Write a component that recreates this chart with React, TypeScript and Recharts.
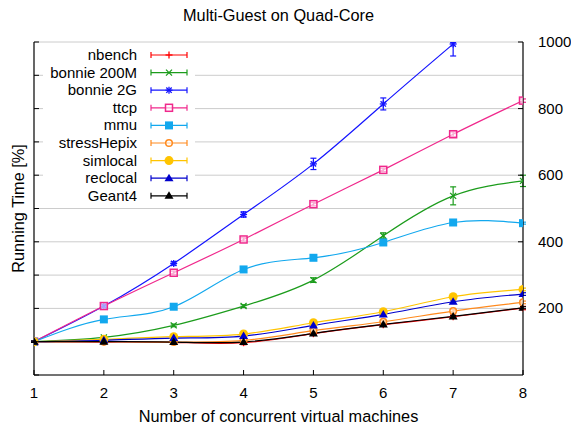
import React from "react";
import { LineChart, Line, XAxis, YAxis, CartesianGrid, ErrorBar, Legend } from "recharts";

// ---------- data ----------
const machines = [1, 2, 3, 4, 5, 6, 7, 8];
const xTicks = [1, 2, 3, 4, 5, 6, 7, 8];
const yTicksMinor = [0, 100, 200, 300, 400, 500, 600, 700, 800, 900, 1000];
const yTicksLabeled = [200, 400, 600, 800, 1000];

const nbench = [100, 99, 98, 97, 124, 151, 175, 201];
const nbenchErr = [2, 3, 4, 6, 5, 5, 5, 5];
const bonnie200M = [100, 113, 149, 207, 285, 418, 538, 583];
const bonnie200MErr = [2, 4, 4, 4, 7, 9, 27, 17];
const bonnie2G = [100, 207, 335, 482, 634, 814, 994, null];
const bonnie2GErr: any[] = [2, 4, 5, 8, 17, 18, [36, 4], null];
const ttcp = [100, 207, 307, 407, 513, 616, 723, 824];
const ttcpErr = [2, 5, 5, 5, 5, 5, 7, 5];
const mmu = [100, 167, 205, 317, 352, 398, 458, 456];
const mmuErr = [2, 3, 3, 3, 3, 3, 3, 3];
const stressHepix = [100, 100, 99, 104, 133, 160, 192, 218];
const stressHepixErr = [2, 3, 3, 3, 4, 4, 5, 4];
const simlocal = [100, 107, 115, 123, 157, 190, 235, 257];
const simlocalErr = [2, 3, 3, 4, 4, 5, 7, 4];
const reclocal = [100, 104, 111, 117, 149, 182, 220, 243];
const reclocalErr = [2, 3, 3, 3, 4, 4, 5, 4];
const geant4 = [100, 100, 99, 99, 125, 152, 176, 202];
const geant4Err = [2, 2, 2, 2, 3, 3, 3, 3];

const chartTitle = "Multi-Guest on Quad-Core";
const xTitle = "Number of concurrent virtual machines";
const yTitle = "Running Time [%]";

type MarkerKind =
  | "plus"
  | "cross"
  | "star"
  | "openSquare"
  | "filledSquare"
  | "openCircle"
  | "filledCircle"
  | "triangle";

const series: { key: string; name: string; values: any[]; errs: any[]; color: string; marker: MarkerKind }[] = [
  { key: "nbench", name: "nbench", values: nbench, errs: nbenchErr, color: "#ff0000", marker: "plus" },
  { key: "bonnie200M", name: "bonnie 200M", values: bonnie200M, errs: bonnie200MErr, color: "#1c9c1c", marker: "cross" },
  { key: "bonnie2G", name: "bonnie 2G", values: bonnie2G, errs: bonnie2GErr, color: "#1414ff", marker: "star" },
  { key: "ttcp", name: "ttcp", values: ttcp, errs: ttcpErr, color: "#f0288c", marker: "openSquare" },
  { key: "mmu", name: "mmu", values: mmu, errs: mmuErr, color: "#12a8ee", marker: "filledSquare" },
  { key: "stressHepix", name: "stressHepix", values: stressHepix, errs: stressHepixErr, color: "#ff8a1e", marker: "openCircle" },
  { key: "simlocal", name: "simlocal", values: simlocal, errs: simlocalErr, color: "#ffc400", marker: "filledCircle" },
  { key: "reclocal", name: "reclocal", values: reclocal, errs: reclocalErr, color: "#0000cc", marker: "triangle" },
  { key: "geant4", name: "Geant4", values: geant4, errs: geant4Err, color: "#000000", marker: "triangle" },
];

const data = machines.map((m, i) => {
  const row: any = { x: m };
  series.forEach((s) => {
    row[s.key] = s.values[i];
    row[s.key + "_err"] = s.errs[i];
  });
  return row;
});

// ---------- layout ----------
const W = 571;
const H = 426;
const PLOT_LEFT = 34;
const PLOT_RIGHT = 523;
const PLOT_TOP = 42;
const PLOT_BOTTOM = 375;
const FONT = "'Liberation Sans', Arial, sans-serif";
const FS = 15;
const FS_TITLE = 16.3;
const TICK = 5;

const Marker = ({ cx, cy, kind, color }: { cx: number; cy: number; kind: MarkerKind; color: string }) => {
  if (cx == null || cy == null || isNaN(cx) || isNaN(cy)) return <g />;
  switch (kind) {
    case "plus":
      return (
        <g stroke={color} strokeWidth={1.3}>
          <line x1={cx - 3.5} x2={cx + 3.5} y1={cy} y2={cy} />
          <line x1={cx} x2={cx} y1={cy - 3.5} y2={cy + 3.5} />
        </g>
      );
    case "cross":
      return (
        <g stroke={color} strokeWidth={1.3}>
          <line x1={cx - 3} x2={cx + 3} y1={cy - 3} y2={cy + 3} />
          <line x1={cx - 3} x2={cx + 3} y1={cy + 3} y2={cy - 3} />
        </g>
      );
    case "star":
      return (
        <g stroke={color} strokeWidth={1.3}>
          <line x1={cx - 3.5} x2={cx + 3.5} y1={cy} y2={cy} />
          <line x1={cx} x2={cx} y1={cy - 3.5} y2={cy + 3.5} />
          <line x1={cx - 2.7} x2={cx + 2.7} y1={cy - 2.7} y2={cy + 2.7} />
          <line x1={cx - 2.7} x2={cx + 2.7} y1={cy + 2.7} y2={cy - 2.7} />
        </g>
      );
    case "openSquare":
      return <rect x={cx - 3.5} y={cy - 3.5} width={7} height={7} fill="#fff" fillOpacity={0.6} stroke={color} strokeWidth={1.5} />;
    case "filledSquare":
      return <rect x={cx - 4} y={cy - 4} width={8} height={8} fill={color} />;
    case "openCircle":
      return <circle cx={cx} cy={cy} r={3.3} fill="#fff" fillOpacity={0.6} stroke={color} strokeWidth={1.5} />;
    case "filledCircle":
      return <circle cx={cx} cy={cy} r={4.5} fill={color} />;
    case "triangle":
      return <polygon points={`${cx},${cy - 4.5} ${cx + 4.5},${cy + 3} ${cx - 4.5},${cy + 3}`} fill={color} />;
  }
  return <g />;
};

const BottomTick = (props: any) => {
  const { x, payload } = props;
  return (
    <g>
      <line x1={x} x2={x} y1={PLOT_BOTTOM} y2={PLOT_BOTTOM - TICK} stroke="#000" strokeWidth={1} />
      <text x={x} y={PLOT_BOTTOM + 23} textAnchor="middle" fontFamily={FONT} fontSize={FS} fill="#000">
        {payload.value}
      </text>
    </g>
  );
};

const TopTick = (props: any) => {
  const { x } = props;
  return <line x1={x} x2={x} y1={PLOT_TOP} y2={PLOT_TOP + TICK} stroke="#000" strokeWidth={1} />;
};

const LeftTick = (props: any) => {
  const { y } = props;
  return <line x1={PLOT_LEFT} x2={PLOT_LEFT + TICK} y1={y} y2={y} stroke="#000" strokeWidth={1} />;
};

const RightTick = (props: any) => {
  const { y, payload } = props;
  return (
    <g>
      <line x1={PLOT_RIGHT - TICK} x2={PLOT_RIGHT} y1={y} y2={y} stroke="#000" strokeWidth={1} />
      <text x={PLOT_RIGHT + 15} y={y + 5} textAnchor="start" fontFamily={FONT} fontSize={FS} fill="#000">
        {payload.value}
      </text>
    </g>
  );
};

const LegendContent = () => {
  const rowH = 17.6;
  return (
    <svg width={152} height={160} style={{ display: "block", background: "#fff" }}>
      {series.map((s, i) => {
        const y = 10 + i * rowH;
        return (
          <g key={s.key}>
            <text x={94} y={y + 5} textAnchor="end" fontFamily={FONT} fontSize={FS} fill="#000">
              {s.name}
            </text>
            <g stroke={s.color} strokeWidth={1.2}>
              <line x1={108} x2={144} y1={y} y2={y} />
              <line x1={108} x2={108} y1={y - 3} y2={y + 3} />
              <line x1={144} x2={144} y1={y - 3} y2={y + 3} />
            </g>
            <Marker cx={126} cy={y} kind={s.marker} color={s.color} />
          </g>
        );
      })}
    </svg>
  );
};

const midY = (PLOT_TOP + PLOT_BOTTOM) / 2;
const midX = (PLOT_LEFT + PLOT_RIGHT) / 2;

export default function App() {
  return (
    <div style={{ position: "absolute", left: 0, top: 0, width: W, height: H, background: "#fff" }}>
      <LineChart width={W} height={H} data={data} margin={{ top: PLOT_TOP, right: 0, bottom: 0, left: 0 }}>
        <CartesianGrid xAxisId="bottom" yAxisId="left" vertical={false} stroke="#cccccc" strokeWidth={1} />
        <XAxis
          xAxisId="bottom"
          dataKey="x"
          type="number"
          domain={[1, 8]}
          ticks={xTicks}
          allowDataOverflow
          height={H - PLOT_BOTTOM}
          axisLine={{ stroke: "#000", strokeWidth: 1.2 }}
          tickLine={false}
          tick={<BottomTick />}
          interval={0}
          label={{
            content: () => (
              <text x={midX} y={422} textAnchor="middle" fontFamily={FONT} fontSize={FS_TITLE} fill="#000">
                {xTitle}
              </text>
            ),
          }}
        />
        <XAxis
          xAxisId="top"
          orientation="top"
          dataKey="x"
          type="number"
          domain={[1, 8]}
          ticks={xTicks}
          allowDataOverflow
          height={0}
          axisLine={{ stroke: "#000", strokeWidth: 1.2 }}
          tickLine={false}
          tick={<TopTick />}
          interval={0}
        />
        <YAxis
          yAxisId="left"
          type="number"
          domain={[0, 1000]}
          ticks={yTicksMinor}
          allowDataOverflow
          width={PLOT_LEFT}
          axisLine={{ stroke: "#000", strokeWidth: 1.2 }}
          tickLine={false}
          tick={<LeftTick />}
          interval={0}
          label={{
            content: () => (
              <g>
                <text
                  x={24}
                  y={midY}
                  textAnchor="middle"
                  fontFamily={FONT}
                  fontSize={FS_TITLE}
                  fill="#000"
                  transform={`rotate(-90, 24, ${midY})`}
                >
                  {yTitle}
                </text>
                <text x={midX} y={21} textAnchor="middle" fontFamily={FONT} fontSize={FS_TITLE} fill="#000">
                  {chartTitle}
                </text>
              </g>
            ),
          }}
        />
        <YAxis
          yAxisId="right"
          orientation="right"
          type="number"
          domain={[0, 1000]}
          ticks={yTicksLabeled}
          allowDataOverflow
          width={W - PLOT_RIGHT}
          axisLine={{ stroke: "#000", strokeWidth: 1.2 }}
          tickLine={false}
          tick={<RightTick />}
          interval={0}
        />
        <Legend
          layout="vertical"
          align="center"
          verticalAlign="middle"
          width={152}
          height={160}
          wrapperStyle={{ left: 43, top: 45, width: 152, height: 160, background: "#fff" }}
          content={() => <LegendContent />}
        />
        {series.map((s) => (
          <Line
            key={s.key}
            xAxisId="bottom"
            yAxisId="left"
            dataKey={s.key}
            name={s.name}
            type="natural"
            stroke={s.color}
            strokeWidth={1.2}
            isAnimationActive={false}
            connectNulls={false}
            dot={(p: any) => <Marker key={`${s.key}-${p.index}`} cx={p.cx} cy={p.cy} kind={s.marker} color={s.color} />}
            activeDot={false}
          >
            <ErrorBar dataKey={s.key + "_err"} width={3} stroke={s.color} strokeWidth={1.2} direction="y" isAnimationActive={false} />
          </Line>
        ))}
      </LineChart>
    </div>
  );
}
